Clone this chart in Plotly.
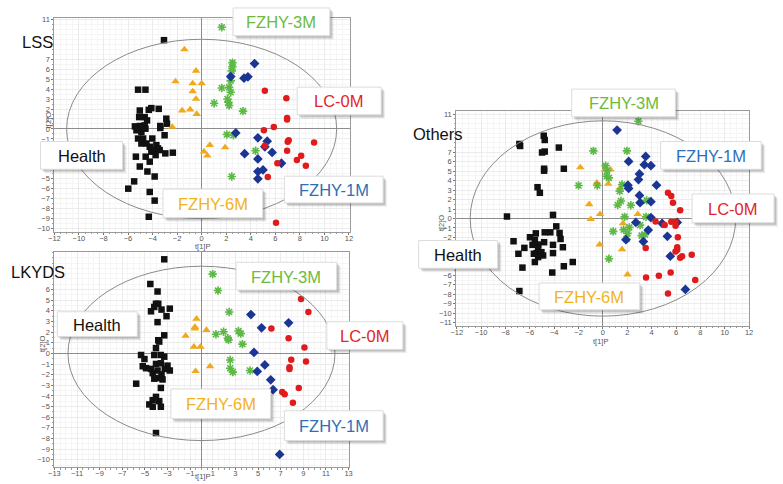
import plotly.graph_objects as go

# ---------------- DATA ----------------
# Panel LSS
lss_health_x = [-3.07, -5.18, -4.58, -5.04, -4.31, -4.10, -3.50, -5.09, -4.64, -4.45, -2.88, -5.44, -5.04, -4.64, -3.37,
                -2.83, -5.31, -4.91, -4.58, -3.37, -5.18, -4.77, -4.02, -3.02, -4.91, -4.50, -4.23, -3.69, -3.56, -4.10,
                -3.83, -3.42, -5.36, -4.56, -3.75, -2.96, -2.35, -4.23, -5.04, -4.42, -3.83, -5.50, -5.98, -4.23, -3.83, -4.31]
lss_health_y = [8.91, 3.94, 3.94, 1.85, 1.92, 2.09, 2.02, 1.19, 1.19, 0.86, 1.03, 0.26, 0.30, 0.36, 0.30,
                0.53, -0.13, -0.30, 0.03, 0.10, -0.96, -0.96, -0.96, -0.63, -1.46, -1.46, -1.79, -1.62, -1.95, -2.28,
                -2.12, -2.12, -2.78, -2.78, -2.62, -2.45, -2.38, -3.28, -3.77, -4.27, -4.77, -5.26, -5.99, -6.32, -7.19, -8.81]
lss_6m_x = [-1.40, -0.46, -2.13, -0.73, 0.00, -0.73, -0.46, -1.59, -0.94, -0.40, -2.40, 0.67, 0.19, 0.46, 1.91]
lss_6m_y = [7.98, 5.83, 4.77, 4.57, 4.57, 3.77, 3.01, 1.85, 1.95, 1.49, 0.20, -1.62, -2.28, -2.68, -1.85]
lss_3m_x = [1.64, 2.51, 2.51, 2.45, 2.37, 1.64, 2.24, 2.37, 2.10, 2.18, 2.24, 1.02, 3.37, 2.05, 2.59, 4.39, 2.45]
lss_3m_y = [10.2, 6.66, 6.26, 5.83, 4.83, 4.11, 4.17, 3.68, 3.01, 2.68, 2.35, 2.58, 1.79, -0.56, -0.63, -2.19, -4.77]
lss_1m_x = [4.31, 2.37, 3.45, 3.77, 2.78, 4.58, 5.34, 5.15, 5.74, 3.50, 4.58, 6.50, 5.00, 4.58, 4.58]
lss_1m_y = [6.56, 5.26, 5.10, 5.23, -0.40, -0.89, -1.23, -1.79, -2.35, -2.48, -3.01, -3.44, -4.11, -4.27, -5.00]
lss_0m_x = [5.15, 6.90, 6.96, 6.96, 5.88, 5.07, 7.09, 7.01, 9.16, 5.15, 6.96, 8.11, 7.76, 8.49, 6.17, 5.39, 6.06]
lss_0m_y = [3.84, 3.08, 1.09, 0.96, 0.20, -0.13, -1.13, -1.29, -1.36, -1.69, -2.19, -2.68, -3.11, -3.68, -3.44, -4.83, -9.40]

# Panel LKYDS
lk_health_x = [-3.29, -4.52, -3.88, -4.02, -3.82, -4.17, -3.53, -2.80, -4.46, -3.09, -3.88, -3.29, -3.82, -3.73, -4.02,
               -5.34, -5.04, -4.17, -3.59, -3.29, -5.19, -4.90, -4.46, -4.02, -3.59, -3.00, -2.80, -4.31, -3.88, -3.53,
               -3.24, -4.17, -3.82, -3.44, -5.77, -3.59, -4.02, -4.31, -3.73, -4.61, -4.31, -3.59, -4.02]
lk_health_y = [8.85, 6.53, 5.82, 4.67, 4.67, 4.37, 4.12, 4.21, 3.96, 3.50, 2.94, 1.70, 1.24, 1.11, 0.50,
               -0.15, -0.53, -0.15, -0.15, -0.31, -1.21, -1.39, -1.46, -0.99, -0.93, -1.15, -1.61, -1.86, -1.61, -1.98,
               -1.46, -2.38, -2.32, -2.45, -2.85, -3.25, -4.09, -4.40, -4.49, -4.80, -5.02, -5.02, -7.49]
lk_6m_x = [-0.44, -0.58, -0.58, 0.44, -1.40, -0.67, -0.09, 0.76, -0.52]
lk_6m_y = [3.25, 2.48, 2.32, 2.20, 1.64, 0.62, 0.62, -1.21, -1.67]
lk_3m_x = [0.99, 1.46, 2.45, 1.28, 1.95, 2.33, 2.39, 3.27, 3.47, 3.62, 2.54, 2.54, 2.77, 4.29]
lk_3m_y = [7.46, 5.91, 3.90, 1.80, 2.04, 1.42, 1.27, 2.11, 1.86, 0.87, -0.62, -1.39, -1.76, -1.61]
lk_1m_x = [4.37, 5.31, 7.70, 4.64, 5.60, 4.93, 6.12, 6.33, 6.91]
lk_1m_y = [3.65, 2.41, 2.88, 0.09, -1.08, -1.70, -2.48, -3.41, -9.50]
lk_0m_x = [8.80, 9.45, 6.18, 7.70, 9.10, 7.93, 9.24, 7.78, 7.78, 8.60, 7.14, 7.35, 8.08]
lk_0m_y = [5.11, 3.90, 2.35, 1.42, 0.56, -0.59, -0.77, -1.30, -1.46, -3.25, -3.62, -3.84, -4.64]

# Panel Others
ot_health_x = [-4.86, -4.78, -6.86, -6.80, -3.62, -4.78, -5.00, -4.83, -4.83, -3.21, -5.37, -5.18, -7.88, -4.10, -3.83,
               -4.32, -4.78, -3.56, -5.51, -5.99, -3.48, -7.34, -5.59, -5.78, -5.32, -4.83, -4.10, -6.45, -3.29, -5.32,
               -5.05, -5.45, -5.67, -6.94, -4.10, -4.91, -5.32, -5.59, -2.48, -3.21, -6.61, -4.16, -6.86]
ot_health_y = [8.73, 8.28, 7.86, 7.65, 7.48, 7.06, 6.96, 5.25, 5.04, 5.25, 3.30, 2.71, 0.21, 0.38, -0.83,
               -1.46, -1.46, -1.53, -1.57, -1.98, -2.16, -2.40, -2.26, -2.78, -2.75, -2.50, -2.78, -3.10, -3.03, -3.20,
               -3.55, -3.65, -3.72, -3.72, -3.65, -3.90, -4.07, -4.59, -4.59, -5.04, -5.18, -5.70, -7.65]
ot_6m_x = [-1.86, 0.16, 0.62, -0.51, 0.43, 1.43, -1.13, -0.24, -1.00, 2.86, 1.65, -0.27, 1.57, 2.02]
ot_6m_y = [5.39, 5.15, 5.15, 3.76, 3.65, 3.23, 1.50, 0.45, -0.07, 0.45, -0.52, -2.75, -3.27, -5.91]
ot_3m_x = [2.91, -0.78, 1.97, 0.22, 0.35, 0.30, 0.49, -2.00, -0.46, 1.57, 1.38, 1.48, 1.21, 2.29, 3.59, 1.78,
           3.54, 3.05, 1.70, 2.16, 0.84, 2.02, 3.18, 3.45, 1.92, 0.49]
ot_3m_y = [10.26, 7.13, 7.13, 5.57, 5.04, 4.45, 4.28, 3.48, 3.48, 3.58, 2.89, 1.84, 1.43, 1.39, 1.91, 0.17,
           0.17, -0.70, -1.18, -0.94, -1.36, -1.57, -1.81, -1.70, -2.16, -4.24]
ot_1m_x = [1.16, 3.51, 2.11, 3.40, 3.94, 3.00, 2.92, 2.05, 2.11, 4.40, 3.00, 3.05, 3.94, 3.94, 2.70, 4.86, 3.72,
           6.10, 5.29, 1.89, 3.32, 5.53, 6.77]
ot_1m_y = [9.32, 6.54, 6.02, 5.67, 5.57, 4.70, 4.10, 3.51, 3.17, 3.51, 2.43, 1.67, 1.77, 0.10, -0.42, -0.52, -1.22,
           -0.42, -1.88, -2.23, -2.43, -3.97, -7.48]
ot_0m_x = [5.34, 5.61, 5.75, 6.34, 4.32, 5.07, 5.61, 5.96, 5.96, 6.15, 6.10, 6.10, 5.96, 3.51, 6.34, 6.50, 7.29,
           5.56, 4.59, 3.54, 7.58, 5.34]
ot_0m_y = [2.71, 2.37, 1.67, 0.87, -0.31, -0.70, -0.35, -0.35, -0.77, -1.98, -3.03, -3.30, -3.48, -3.10, -4.14, -3.97,
           -3.83, -5.70, -6.05, -6.23, -6.50, -7.90]

panel_names = ["LSS", "LKYDS", "Others"]
group_names = ["Health", "FZHY-6M", "FZHY-3M", "FZHY-1M", "LC-0M"]
x_tick_vals = [list(range(-12, 13, 2)), list(range(-13, 14, 2)), list(range(-12, 13, 2))]
# y tick labels visible in the reference (others are hidden behind the panel/group labels)
y_tick_vals = [[11, 7, 6, 5, 4, 3, 2, 1, 0, -1, -5, -6, -7, -8, -9, -10],
               [6, 5, 4, 3, 2, 1, 0, -1, -2, -3, -4, -5, -6, -7, -8, -9, -10],
               [11, 7, 6, 5, 4, 3, 2, 1, 0, -1, -2, -6, -7, -8, -9, -10, -11]]
ellipse_axes = [(11.0, 9.0), (11.8, 8.2), (10.9, 10.3)]

# ---------------- STYLE / LAYOUT ----------------
W, H = 783, 484
def px(p): return p / W
def py(p): return 1 - p / H

marker_styles = {
    "Health": dict(symbol="square", size=6.5, color="#111111"),
    "FZHY-6M": dict(symbol="triangle-up", size=7.5, color="#f0a81c"),
    "FZHY-3M": dict(symbol="asterisk-open", size=7, color="#5cb946", line=dict(color="#5cb946", width=1.6)),
    "FZHY-1M": dict(symbol="diamond", size=7.5, color="#1b3594"),
    "LC-0M": dict(symbol="circle", size=6.5, color="#e01b1b"),
}
label_colors = {"Health": "#111111", "FZHY-6M": "#f2b320", "FZHY-3M": "#6cbb3c",
                "FZHY-1M": "#2f6fb5", "LC-0M": "#e0262b"}

panel_data = [
    [(lss_health_x, lss_health_y), (lss_6m_x, lss_6m_y), (lss_3m_x, lss_3m_y), (lss_1m_x, lss_1m_y), (lss_0m_x, lss_0m_y)],
    [(lk_health_x, lk_health_y), (lk_6m_x, lk_6m_y), (lk_3m_x, lk_3m_y), (lk_1m_x, lk_1m_y), (lk_0m_x, lk_0m_y)],
    [(ot_health_x, ot_health_y), (ot_6m_x, ot_6m_y), (ot_3m_x, ot_3m_y), (ot_1m_x, ot_1m_y), (ot_0m_x, ot_0m_y)],
]

# plot-area pixel boxes (left, right, top, bottom) and axis ranges
panel_px = [(49, 348, 15, 231), (49, 347, 252, 469), (456, 752.7, 109, 326)]
x_ranges = [[-12.0, 12.05], [-13.0, 13.0], [-12.05, 12.0]]
y_ranges = [[-10.3, 11.15], [-10.7, 9.5], [-11.3, 11.35]]

fig = go.Figure()
tick_font = dict(family="Liberation Sans, Arial", size=7.5, color="#555555")

for i in range(3):
    xa = "x" if i == 0 else f"x{i+1}"
    ya = "y" if i == 0 else f"y{i+1}"
    for g, (xs, ys) in zip(group_names, panel_data[i]):
        fig.add_trace(go.Scatter(x=xs, y=ys, mode="markers", name=g, showlegend=False,
                                 marker=marker_styles[g], xaxis=xa, yaxis=ya, cliponaxis=False))
    l, r, t, b = panel_px[i]
    axcommon = dict(showline=True, linecolor="#9a9a9a", linewidth=1, mirror=True,
                    showgrid=True, gridcolor="#ececec", gridwidth=0.6,
                    zeroline=True, zerolinecolor="#8c8c8c", zerolinewidth=1.3,
                    ticks="outside", ticklen=2, tickcolor="#777777", tickfont=tick_font,
                    minor=dict(ticks="outside", ticklen=1.5, tickcolor="#999999", showgrid=True,
                               gridcolor="#f5f5f5", gridwidth=0.5, dtick=0.5),
                    fixedrange=True)
    xkey = "xaxis" if i == 0 else f"xaxis{i+1}"
    ykey = "yaxis" if i == 0 else f"yaxis{i+1}"
    fig.update_layout(**{
        xkey: dict(axcommon, domain=[px(l), px(r)], range=x_ranges[i], anchor=ya,
                   tickmode="array", tickvals=x_tick_vals[i], ticklabelstandoff=-3),
        ykey: dict(axcommon, domain=[py(b), py(t)], range=y_ranges[i], anchor=xa,
                   tickmode="array", tickvals=y_tick_vals[i], ticklabelstandoff=0),
    })
    a, bb = ellipse_axes[i]
    fig.add_shape(type="circle", xref=xa, yref=ya, x0=-a, x1=a, y0=-bb, y1=bb,
                  line=dict(color="#8a8a8a", width=1), layer="above")

# axis titles (SIMCA style, small)
axis_titles = [("t[2]O", 43, 118, -90), ("t[1]P", 199, 246, 0),
               ("t[2]O", 37, 345, -90), ("t[1]P", 199, 478, 0),
               ("t[2]O", 441, 222, -90), ("t[1]P", 602, 342, 0)]
for txt, x0, y0, ang in axis_titles:
    fig.add_annotation(text=txt, xref="paper", yref="paper", x=px(x0), y=py(y0), showarrow=False,
                       textangle=ang, font=dict(family="Liberation Sans, Arial", size=7.5, color="#555555"),
                       xanchor="center", yanchor="middle")

# group label boxes: (text, box left, right, top, bottom in px)
label_boxes = [
    ("FZHY-3M", 230, 328, 5, 33), ("LC-0M", 295, 380, 85, 113), ("Health", 35, 118, 140, 168),
    ("FZHY-1M", 282, 382, 175, 202), ("FZHY-6M", 159, 260, 188, 217),
    ("FZHY-3M", 233, 335, 262, 290), ("Health", 52, 133, 312, 337), ("LC-0M", 325, 402, 322, 350),
    ("FZHY-6M", 167, 268, 390, 420), ("FZHY-1M", 282, 382, 412, 442),
    ("FZHY-3M", 573, 678, 87, 115), ("FZHY-1M", 663, 765, 140, 168), ("LC-0M", 695, 778, 193, 222),
    ("Health", 418, 498, 240, 268), ("FZHY-6M", 540, 642, 283, 310),
]
for txt, l, r, t, b in label_boxes:
    for off, alpha in ((4, 0.06), (3, 0.09), (2, 0.12)):
        fig.add_shape(type="rect", xref="paper", yref="paper", x0=px(l + off), x1=px(r + off),
                      y0=py(b + off), y1=py(t + off), line=dict(width=0),
                      fillcolor=f"rgba(0,0,0,{alpha})", layer="above")
    fig.add_shape(type="rect", xref="paper", yref="paper", x0=px(l), x1=px(r), y0=py(b), y1=py(t),
                  line=dict(color="#dcdcdc", width=1), fillcolor="white", layer="above")
    fig.add_annotation(text=txt, xref="paper", yref="paper", x=px((l + r) / 2), y=py((t + b) / 2 + 0.5),
                       showarrow=False, xanchor="center", yanchor="middle",
                       font=dict(family="Liberation Sans, Arial", size=16.5, color=label_colors[txt]))

# panel names
panel_name_pos = [(32, 39), (32, 272), (438, 132)]
for name, (x0, y0) in zip(panel_names, panel_name_pos):
    fig.add_annotation(text=name, xref="paper", yref="paper", x=px(x0), y=py(y0), showarrow=False,
                       xanchor="center", yanchor="middle",
                       font=dict(family="Liberation Sans, Arial", size=16.5, color="#111111"))

fig.update_layout(width=W, height=H, margin=dict(l=0, r=0, t=0, b=0),
                  paper_bgcolor="white", plot_bgcolor="white", showlegend=False)
fig.write_html("out.html", config={"displayModeBar": False},
               post_script="document.body.style.margin='0';document.body.style.overflow='hidden';")
